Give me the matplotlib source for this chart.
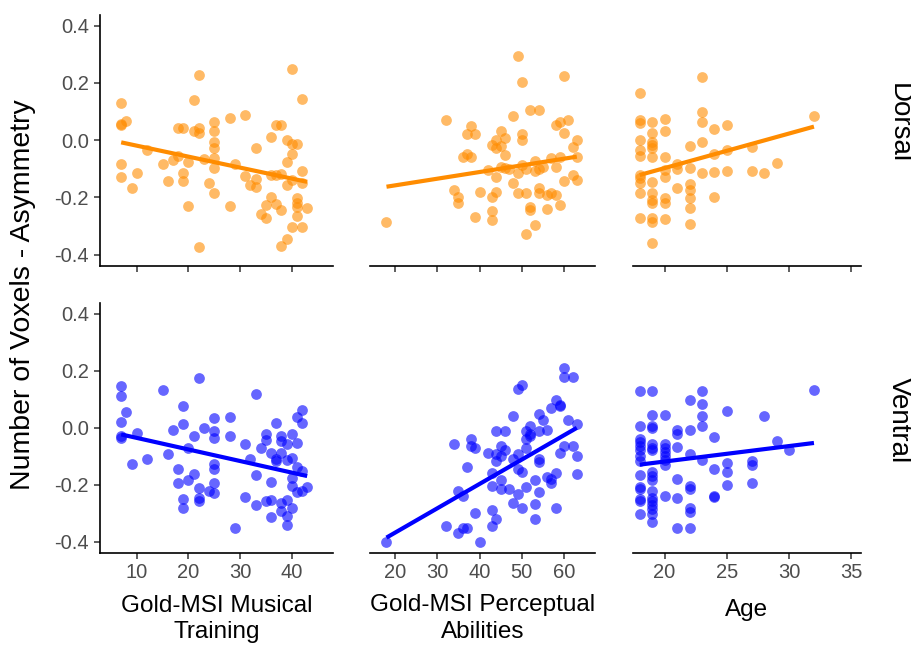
import matplotlib
matplotlib.use("Agg")
import matplotlib.pyplot as plt
from matplotlib.ticker import FormatStrFormatter

plt.rcParams['font.family'] = ['Liberation Sans', 'DejaVu Sans']
plt.rcParams['axes.unicode_minus'] = False

# --- data ----------------------------------------------------------------
# Gold-MSI Musical Training, dorsal
mt_dorsal_x = [7, 7, 7, 8, 7, 7, 9, 10, 12, 15, 16, 17, 18, 19, 18, 19, 19, 20, 20,
               21, 21, 22, 22, 22, 22, 23, 24, 25, 25, 25, 25, 25, 25, 25, 28, 28, 29,
               31, 31, 32, 33, 33, 33, 34, 35, 35, 36, 36, 36, 37, 38, 37, 37, 38, 38,
               38, 39, 39, 39, 39, 40, 40, 40, 40, 40, 41, 41, 41, 41, 42, 42, 42, 42,
               43, 41]
mt_dorsal_y = [0.128, 0.052, 0.055, 0.066, -0.084, -0.128, -0.166, -0.114, -0.035,
               -0.085, -0.142, -0.070, 0.041, 0.041, -0.055, -0.116, -0.142, -0.230,
               -0.076, 0.140, 0.033, 0.041, 0.023, 0.229, -0.375, -0.067, -0.151,
               0.064, 0.033, -0.006, -0.029, -0.064, -0.099, -0.184, 0.076, -0.230,
               -0.084, 0.086, -0.126, -0.156, -0.029, -0.137, -0.165, -0.258, -0.227,
               -0.273, 0.012, -0.122, -0.200, 0.052, 0.052, -0.122, -0.223, -0.119,
               -0.244, -0.370, 0.000, -0.076, -0.157, -0.347, -0.012, -0.047, -0.140,
               -0.305, 0.248, -0.203, -0.219, -0.265, -0.012, 0.145, -0.108, -0.151,
               -0.305, -0.239, -0.233]

# Gold-MSI Perceptual Abilities, dorsal
pa_dorsal_x = [18, 32, 34, 35, 35, 36, 37, 37, 38, 38, 39, 39, 40, 42, 43, 43, 43, 43,
               44, 44, 44, 45, 45, 45, 46, 46, 46, 47, 48, 48, 49, 49, 49, 50, 50, 50,
               50, 51, 51, 51, 52, 52, 52, 53, 53, 54, 54, 54, 54, 55, 56, 56, 57, 57,
               58, 58, 58, 59, 59, 59, 60, 60, 60, 61, 62, 62, 63, 63, 63, 53, 44]
pa_dorsal_y = [-0.285, 0.070, -0.175, -0.200, -0.221, -0.058, 0.021, -0.049, 0.049,
               -0.058, 0.021, -0.268, -0.180, -0.105, -0.017, -0.198, -0.247, -0.279,
               0.000, -0.180, -0.128, 0.033, -0.021, -0.093, 0.006, -0.052, -0.099,
               -0.102, 0.084, -0.149, 0.293, -0.116, -0.186, 0.204, 0.021, 0.000,
               -0.087, -0.186, -0.328, -0.102, 0.105, -0.233, -0.244, -0.072, -0.297,
               0.105, -0.169, -0.102, -0.186, -0.093, -0.192, -0.242, -0.064, -0.184,
               0.052, -0.093, -0.192, 0.064, -0.058, -0.227, 0.223, 0.023, -0.142,
               0.070, -0.023, -0.122, 0.000, -0.060, -0.140, -0.107, -0.029]

# Age, dorsal
age_dorsal_x = ([18] * 11 + [19] * 13 + [20] * 8 + [21] * 3 + [22] * 7 + [23] * 5
                + [24] * 4 + [25] * 3 + [27] * 2 + [28, 29, 32])
age_dorsal_y = [0.163, 0.070, 0.058, 0.000, -0.035, -0.056, -0.122, -0.134, -0.151, -0.184, -0.273,
                0.062, 0.023, -0.006, -0.017, -0.029, -0.058, -0.145, -0.184, -0.209, -0.221,
                -0.273, -0.285, -0.358,
                0.072, 0.033, -0.058, -0.105, -0.128, -0.204, -0.221, -0.277,
                -0.084, -0.102, -0.169,
                -0.021, -0.099, -0.154, -0.175, -0.204, -0.239, -0.294,
                0.221, 0.099, 0.064, -0.006, -0.114,
                0.037, -0.047, -0.111, -0.200,
                0.052, -0.035, -0.108,
                -0.023, -0.108,
                -0.116, -0.081, 0.084]

# Gold-MSI Musical Training, ventral
mt_ventral_x = [7, 7, 7, 7, 7, 8, 9, 10, 12, 15, 16, 17, 18, 18, 19, 19, 19, 19, 20, 20,
                21, 21, 22, 22, 22, 22, 23, 24, 25, 25, 25, 25, 25, 25, 25, 28, 28, 29,
                31, 31, 32, 33, 33, 33, 34, 35, 35, 35, 36, 36, 36, 36, 37, 37, 37, 38,
                38, 38, 38, 38, 39, 39, 39, 39, 39, 40, 40, 40, 40, 40, 41, 41, 41, 41,
                42, 42, 42, 42, 43]
mt_ventral_y = [0.147, 0.110, 0.019, -0.030, -0.036, 0.054, -0.129, -0.019, -0.110,
                0.131, -0.094, -0.007, -0.147, -0.193, 0.075, 0.014, -0.249, -0.281,
                -0.071, -0.184, -0.030, -0.164, 0.174, -0.211, -0.246, -0.258, -0.001,
                -0.223, 0.034, -0.013, -0.036, -0.129, -0.147, -0.196, -0.228, 0.037,
                -0.030, -0.351, -0.059, -0.242, -0.110, 0.119, -0.168, -0.273, -0.071,
                -0.021, -0.042, -0.258, -0.089, -0.191, -0.254, -0.312, 0.016, -0.110,
                -0.118, -0.028, -0.048, -0.089, -0.263, -0.293, -0.059, -0.114, -0.254,
                -0.310, -0.341, -0.024, -0.106, -0.176, -0.205, -0.281, 0.037, -0.054,
                -0.138, -0.226, 0.063, 0.016, -0.153, -0.223, -0.207]

# Gold-MSI Perceptual Abilities, ventral
pa_ventral_x = [18, 32, 34, 35, 35, 36, 36, 37, 37, 38, 38, 39, 39, 40, 42, 43, 43, 43,
                43, 44, 44, 44, 44, 45, 45, 45, 45, 46, 46, 47, 48, 48, 48, 49, 49, 49,
                49, 50, 50, 50, 51, 51, 51, 51, 52, 52, 52, 53, 53, 53, 54, 54, 54, 54,
                54, 55, 56, 56, 57, 57, 57, 58, 58, 58, 59, 59, 59, 60, 60, 60, 61, 62,
                62, 63, 63, 63]
pa_ventral_y = [-0.400, -0.347, -0.059, -0.223, -0.371, -0.240, -0.354, -0.138, -0.351,
                -0.040, -0.063, -0.071, -0.301, -0.403, -0.089, -0.161, -0.205, -0.289,
                -0.347, -0.013, -0.091, -0.118, -0.319, -0.065, -0.100, -0.184, -0.217,
                -0.013, -0.077, -0.214, 0.040, -0.112, -0.266, 0.135, -0.091, -0.147,
                -0.234, 0.150, -0.156, -0.281, -0.040, -0.071, -0.207, -0.013, 0.007,
                -0.024, -0.030, -0.184, -0.269, -0.319, 0.049, -0.013, -0.112, -0.121,
                -0.226, 0.028, -0.007, -0.172, 0.069, -0.182, -0.193, 0.098, -0.159,
                -0.281, 0.080, 0.075, -0.089, 0.209, 0.179, -0.065, 0.028, 0.179,
                -0.065, 0.014, -0.098, -0.164]

# Age, ventral
age_ventral_x = ([18] * 14 + [19] * 17 + [20] * 8 + [21] * 6 + [22] * 8 + [23] * 5
                 + [24] * 4 + [25] * 4 + [27] * 3 + [28, 29, 30, 32])
age_ventral_y = [0.127, 0.005, -0.040, -0.051, -0.063, -0.077, -0.100, -0.118, -0.168,
                 -0.207, -0.214, -0.249, -0.258, -0.304,
                 0.127, 0.045, 0.007, -0.001, -0.059, -0.071, -0.079, -0.156, -0.170,
                 -0.184, -0.223, -0.246, -0.258, -0.273, -0.287, -0.304, -0.333,
                 0.045, -0.056, -0.071, -0.086, -0.100, -0.114, -0.133, -0.240,
                 -0.009, -0.021, -0.068, -0.179, -0.246, -0.351,
                 0.096, -0.009, -0.091, -0.205, -0.217, -0.281, -0.296, -0.351,
                 0.127, 0.084, 0.042, 0.007, -0.114,
                 -0.033, -0.145, -0.240, -0.242,
                 0.057, -0.126, -0.156, -0.203,
                 -0.118, -0.133, -0.196,
                 0.042, -0.048, -0.079, 0.133]

# regression lines (end points)
mt_dorsal_fit = ([7, 43], [-0.008, -0.146])
pa_dorsal_fit = ([18, 63], [-0.163, -0.058])
age_dorsal_fit = ([18, 32], [-0.122, 0.047])
mt_ventral_fit = ([7, 43], [-0.024, -0.170])
pa_ventral_fit = ([18, 63], [-0.386, -0.001])
age_ventral_fit = ([18, 32], [-0.130, -0.054])

x_titles = ["Gold-MSI Musical\nTraining", "Gold-MSI Perceptual\nAbilities", "Age"]
row_labels = ["Dorsal", "Ventral"]
x_ticks = [[10, 20, 30, 40], [20, 30, 40, 50, 60], [20, 25, 30, 35]]
x_lims = [(2.9, 48.0), (14.1, 67.3), (17.46, 35.78)]
y_ticks = [-0.4, -0.2, 0.0, 0.2, 0.4]
row_colors = ["#FF8C00", "#0000FF"]

panels = [
    [(mt_dorsal_x, mt_dorsal_y, mt_dorsal_fit),
     (pa_dorsal_x, pa_dorsal_y, pa_dorsal_fit),
     (age_dorsal_x, age_dorsal_y, age_dorsal_fit)],
    [(mt_ventral_x, mt_ventral_y, mt_ventral_fit),
     (pa_ventral_x, pa_ventral_y, pa_ventral_fit),
     (age_ventral_x, age_ventral_y, age_ventral_fit)],
]

# --- layout (pixels) ------------------------------------------------------
W, H = 912, 646
col_px = [(100, 333), (370, 595), (633, 861)]
row_px = [(15, 266), (303, 553)]

fig = plt.figure(figsize=(W / 100, H / 100), dpi=100)

for r, (top, bot) in enumerate(row_px):
    for c, (left, right) in enumerate(col_px):
        ax = fig.add_axes([left / W, 1 - bot / H, (right - left) / W, (bot - top) / H])
        xs, ys, fit = panels[r][c]
        ax.scatter(xs, ys, s=60, color=row_colors[r], alpha=0.6, linewidths=0, zorder=2)
        ax.plot(fit[0], fit[1], color=row_colors[r], lw=3.0, solid_capstyle='butt', zorder=3)

        ax.set_xlim(*x_lims[c])
        ax.set_ylim(-0.44, 0.437)
        ax.set_xticks(x_ticks[c])
        ax.set_yticks(y_ticks)
        ax.yaxis.set_major_formatter(FormatStrFormatter('%.1f'))

        for s in ['top', 'right']:
            ax.spines[s].set_visible(False)
        ax.spines['bottom'].set_linewidth(1.2)
        ax.spines['left'].set_linewidth(1.2)
        ax.tick_params(length=4, width=1.1, color='#333333', labelcolor='#4D4D4D',
                       labelsize=14.5)
        ax.tick_params(axis='x', pad=3.5)
        ax.tick_params(axis='y', pad=4)

        if c != 0:
            ax.spines['left'].set_visible(False)
            ax.tick_params(axis='y', left=False, labelleft=False)
        if r == 0:
            ax.tick_params(axis='x', labelbottom=False)

# axis titles
x_title_top = [594.5, 594.5, 599]
for c, (left, right) in enumerate(col_px):
    fig.text((left + right) / 2 / W, 1 - x_title_top[c] / H, x_titles[c],
             ha='center', va='top', fontsize=17.5, linespacing=1.25, color='black')

fig.text(23 / W, 1 - 295 / H, "Number of Voxels - Asymmetry", rotation=90,
         ha='center', va='center', fontsize=20.5, color='black')

# strip labels
strip_pos = [(899, 123), (899, 420)]
for lab, (sx, sy) in zip(row_labels, strip_pos):
    fig.text(sx / W, 1 - sy / H, lab, rotation=270, ha='center', va='center',
             fontsize=20, color='black')

fig.savefig("out.png", dpi=100)
